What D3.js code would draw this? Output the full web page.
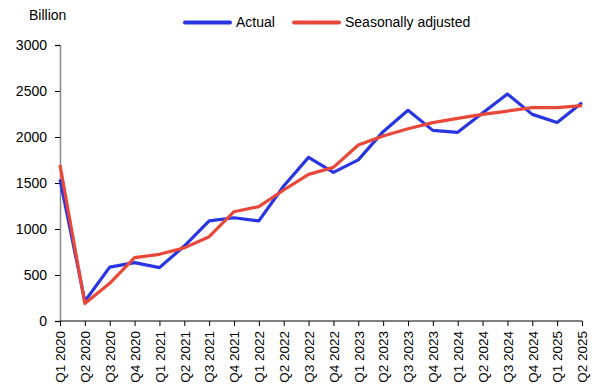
<!DOCTYPE html>
<html><head><meta charset="utf-8">
<script src="https://cdn.jsdelivr.net/npm/d3@7"></script>
<style>body{margin:0;background:#fff}svg{display:block;font-family:"Liberation Sans",Arial,sans-serif}</style>
</head><body><svg id="c" width="601" height="391"></svg>
<script>
const quarters = ["Q1 2020","Q2 2020","Q3 2020","Q4 2020","Q1 2021","Q2 2021","Q3 2021","Q4 2021","Q1 2022","Q2 2022","Q3 2022","Q4 2022","Q1 2023","Q2 2023","Q3 2023","Q4 2023","Q1 2024","Q2 2024","Q3 2024","Q4 2024","Q1 2025","Q2 2025"];
const actual = [1540,215,585,635,580,815,1088,1122,1088,1467,1778,1616,1752,2058,2290,2072,2051,2262,2467,2246,2158,2373];
const seasonal = [1696,190,410,688,725,795,916,1188,1243,1424,1594,1670,1913,2011,2090,2156,2203,2246,2282,2319,2319,2340];
const yTicks = [0,500,1000,1500,2000,2500,3000];
const seriesNames = ["Actual","Seasonally adjusted"];
const colors = ["#2a35e2","#e8483a"];

const svg = d3.select("#c");
const x = d3.scalePoint().domain(quarters).range([60,582]);
const y = d3.scaleLinear().domain([0,3000]).range([321,45]);
const FONT = "Liberation Sans, Arial, sans-serif";

// y axis
const ya = svg.append("g").attr("transform","translate(60,0)")
  .call(d3.axisLeft(y).tickValues(yTicks).tickFormat(d3.format("d")).tickSize(5).tickPadding(8));
ya.select(".domain").attr("stroke","#888").attr("stroke-width",1.5);
ya.selectAll(".tick line").attr("stroke","#000");
ya.selectAll("text").attr("font-size",14).attr("fill","#000").attr("font-family",FONT);

// x axis
const xa = svg.append("g").attr("transform","translate(0,321)")
  .call(d3.axisBottom(x).tickSize(5).tickPadding(4));
xa.select(".domain").attr("stroke","#000").attr("d","M60,0H582");
xa.selectAll(".tick line").attr("stroke","#000");
xa.selectAll("text").attr("font-size",13.5).attr("fill","#000").attr("font-family",FONT)
  .attr("transform","rotate(-90)").attr("text-anchor","end").attr("x",-10).attr("y",0).attr("dy","0.35em");

// lines
const line = d3.line().x((d,i)=>x(quarters[i])).y(d=>y(d));
[actual, seasonal].forEach((s,k)=>{
  svg.append("path").datum(s).attr("d",line).attr("fill","none")
    .attr("stroke",colors[k]).attr("stroke-width",3.2).attr("stroke-linejoin","round");
});

// "Billion" label
svg.append("text").attr("x",29).attr("y",20).attr("font-size",14).attr("font-family",FONT).text("Billion");

// legend
const legX = [185,294];
seriesNames.forEach((n,k)=>{
  svg.append("line").attr("x1",legX[k]).attr("x2",legX[k]+45).attr("y1",22.5).attr("y2",22.5)
    .attr("stroke",colors[k]).attr("stroke-width",4).attr("stroke-linecap","round");
  svg.append("text").attr("x",legX[k]+51).attr("y",27).attr("font-size",14).attr("font-family",FONT).text(n);
});
</script></body></html>
